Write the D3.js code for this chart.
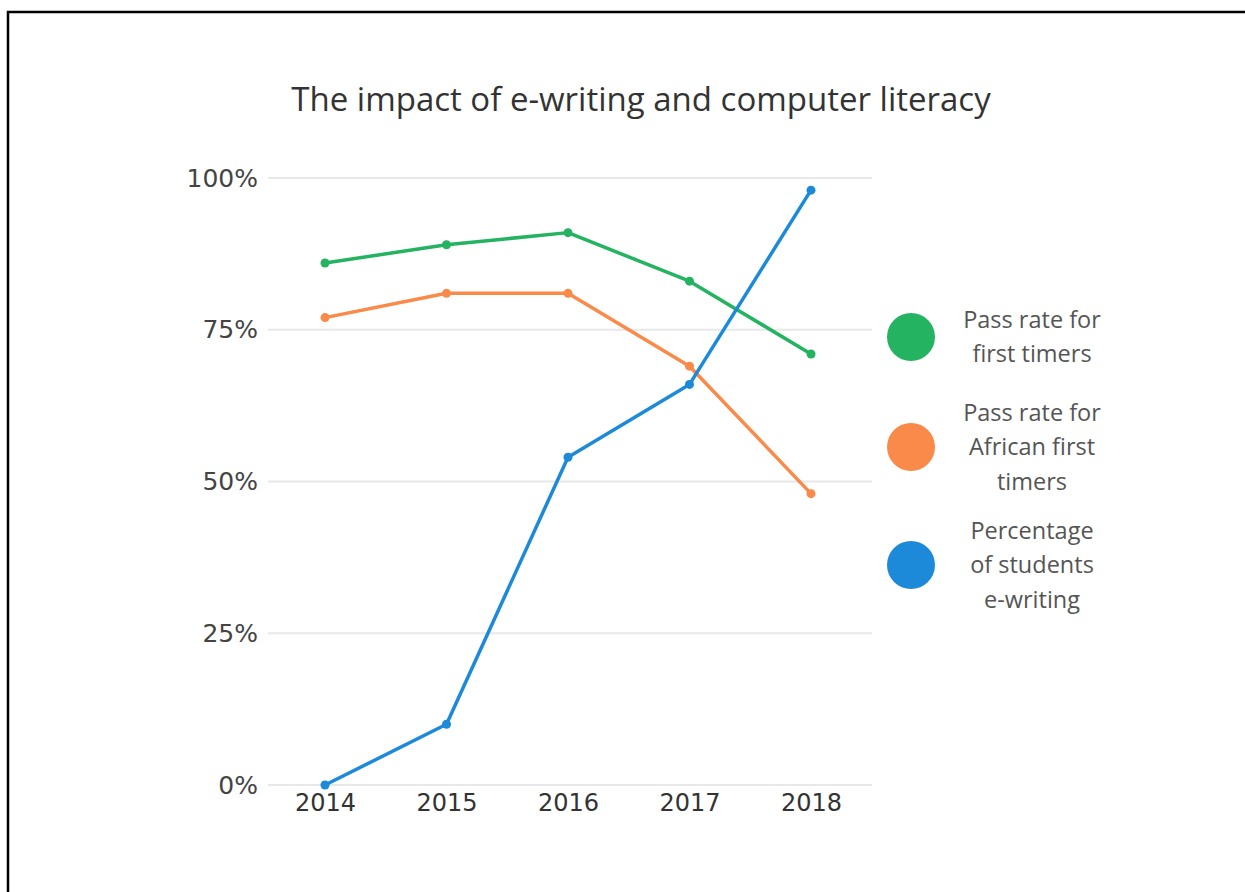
<!DOCTYPE html>
<html>
<head>
<meta charset="utf-8">
<script src="https://cdn.jsdelivr.net/npm/d3@7"></script>
<style>
  html, body { margin: 0; padding: 0; background: #fff; }
  svg { display: block; }
</style>
</head>
<body>
<svg id="chart" width="1245" height="892"></svg>
<script>
// Chart data
const years = ["2014", "2015", "2016", "2017", "2018"];
const passRateFirstTimers = [86, 89, 91, 83, 71];
const passRateAfricanFirstTimers = [77, 81, 81, 69, 48];
const studentsEWriting = [0, 10, 54, 66, 98];
const yTicks = [0, 25, 50, 75, 100];
const seriesNames = [
  ["Pass rate for", "first timers"],
  ["Pass rate for", "African first", "timers"],
  ["Percentage", "of students", "e-writing"]
];
const seriesColors = ["#24b360", "#fa8a4a", "#1c8ad8"];
const titleText = "The impact of e-writing and computer literacy";

const series = [passRateFirstTimers, passRateAfricanFirstTimers, studentsEWriting];

const svg = d3.select("#chart");

// Frame lines along top and left
svg.append("path")
  .attr("d", "M8,892 V12 H1245")
  .attr("fill", "none")
  .attr("stroke", "#000")
  .attr("stroke-width", 2.5);

// Title
svg.append("text")
  .attr("x", 641)
  .attr("y", 111)
  .attr("text-anchor", "middle")
  .attr("font-family", "'Open Sans', sans-serif")
  .attr("font-size", 33)
  .attr("fill", "#333")
  .text(titleText);

const x = d3.scalePoint().domain(years).range([325, 811]);
const y = d3.scaleLinear().domain([0, 100]).range([785, 178]);

// Horizontal gridlines
svg.append("g")
  .selectAll("line")
  .data(yTicks)
  .join("line")
  .attr("x1", 268)
  .attr("x2", 872)
  .attr("y1", d => y(d))
  .attr("y2", d => y(d))
  .attr("stroke", "#e8e8e8")
  .attr("stroke-width", 2);

// Y axis labels
const yAxis = svg.append("g")
  .attr("transform", "translate(268,0)")
  .call(d3.axisLeft(y).tickValues(yTicks).tickFormat(d => d + "%").tickSize(0).tickPadding(10));
yAxis.select(".domain").remove();
yAxis.selectAll("text")
  .attr("font-family", "'DejaVu Sans', sans-serif")
  .attr("font-size", 25)
  .attr("fill", "#444");

// X axis labels
const xAxis = svg.append("g")
  .attr("transform", "translate(0,785)")
  .call(d3.axisBottom(x).tickSize(0).tickPadding(9));
xAxis.select(".domain").remove();
xAxis.selectAll("text")
  .attr("font-family", "'DejaVu Sans', sans-serif")
  .attr("font-size", 24)
  .attr("fill", "#333");

// Lines and point markers
const line = d3.line()
  .x((d, i) => x(years[i]))
  .y(d => y(d));

const seriesG = svg.append("g")
  .selectAll("g")
  .data(series)
  .join("g");

seriesG.append("path")
  .attr("d", d => line(d))
  .attr("fill", "none")
  .attr("stroke", (d, i) => seriesColors[i])
  .attr("stroke-width", 3.5)
  .attr("stroke-linejoin", "round");

seriesG.each(function (d, i) {
  d3.select(this).selectAll("circle")
    .data(d)
    .join("circle")
    .attr("cx", (v, j) => x(years[j]))
    .attr("cy", v => y(v))
    .attr("r", 4.5)
    .attr("fill", seriesColors[i]);
});

// Legend
const legendY = [337, 447, 565];
const legend = svg.append("g")
  .selectAll("g")
  .data(seriesNames)
  .join("g")
  .attr("transform", (d, i) => `translate(0,${legendY[i]})`);

legend.append("circle")
  .attr("cx", 911)
  .attr("cy", 0)
  .attr("r", 24)
  .attr("fill", (d, i) => seriesColors[i]);

legend.each(function (lines) {
  const lh = 34.5;
  const start = -((lines.length - 1) * lh) / 2;
  d3.select(this).selectAll("text")
    .data(lines)
    .join("text")
    .attr("x", 1032)
    .attr("y", (t, k) => start + k * lh)
    .attr("dy", "0.35em")
    .attr("text-anchor", "middle")
    .attr("font-family", "'Open Sans', sans-serif")
    .attr("font-size", 23.5)
    .attr("fill", "#555")
    .text(t => t);
});
</script>
</body>
</html>
